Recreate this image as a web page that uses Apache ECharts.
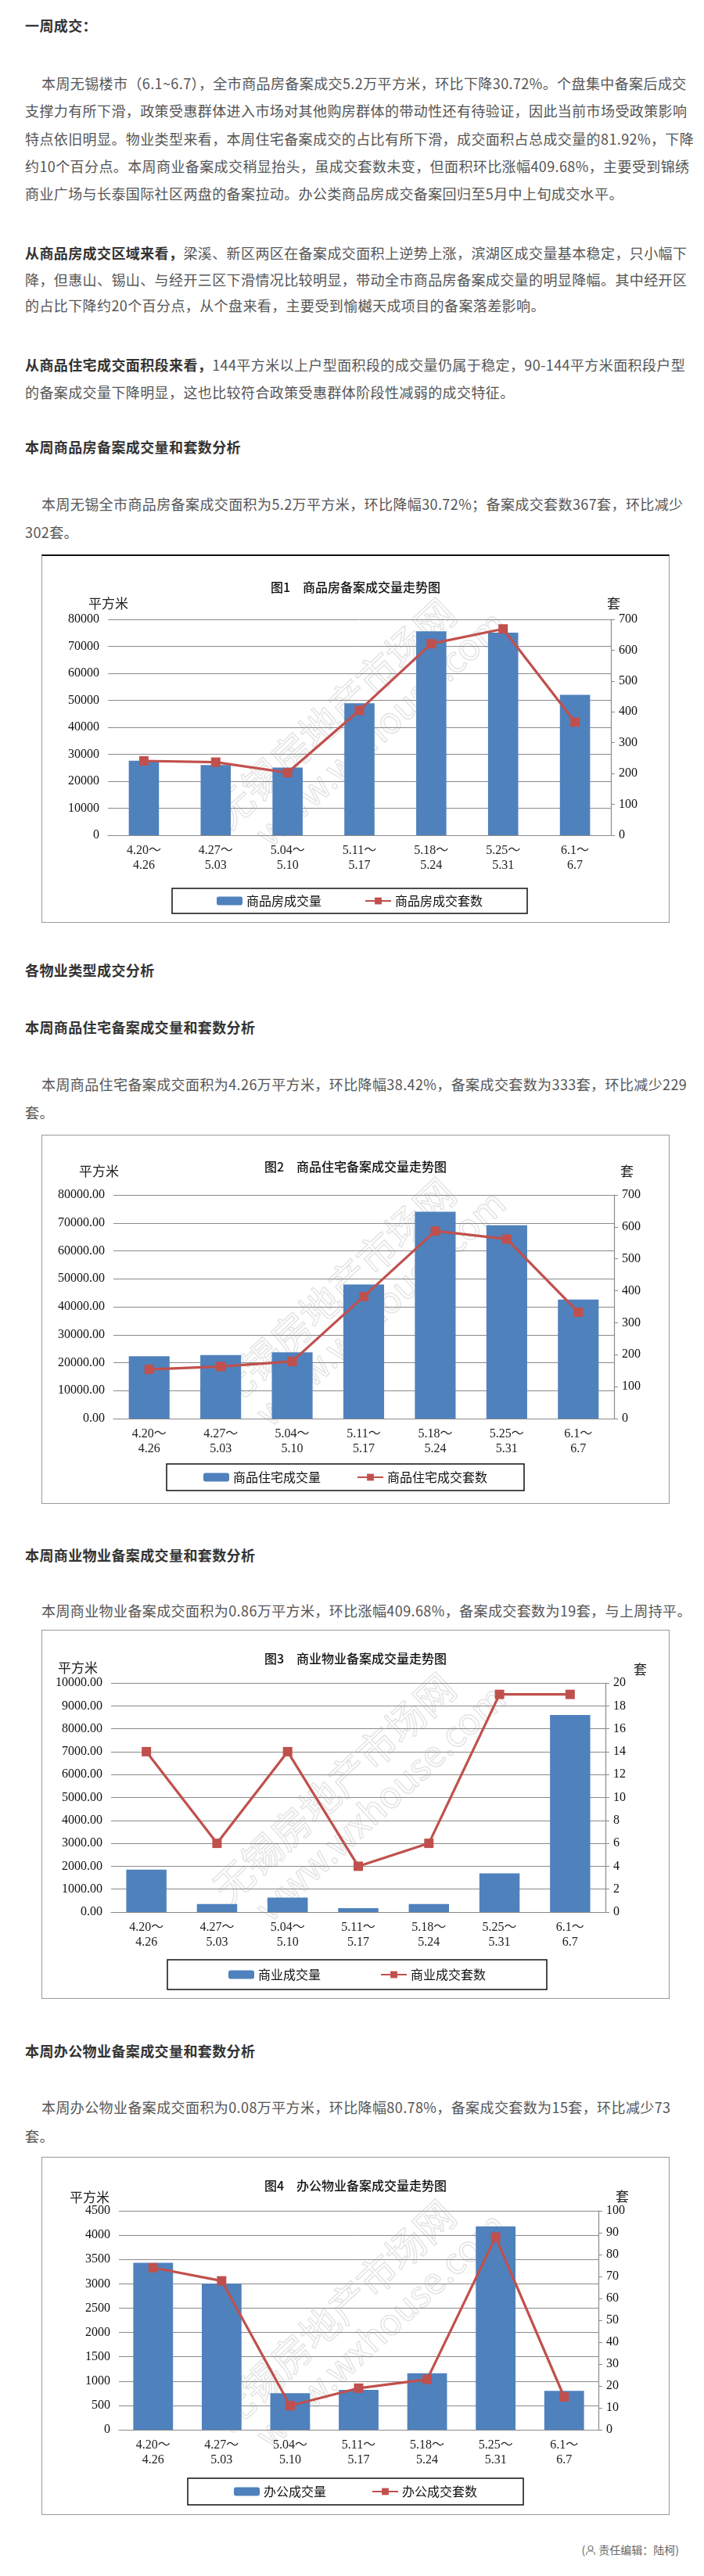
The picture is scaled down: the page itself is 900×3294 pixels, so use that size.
<!DOCTYPE html>
<html>
<head>
<meta charset="utf-8">
<title>无锡楼市一周成交</title>
<script src="https://cdn.jsdelivr.net/npm/echarts@6.0.0/dist/echarts.min.js"></script>
<style>
  body { margin: 0; background: #fff; font-family: 'Noto Sans CJK SC', sans-serif; }
  #page { position: relative; width: 900px; height: 3294px; overflow: hidden; }
  .t { position: absolute; left: 32px; white-space: nowrap; font-size: 18px; line-height: 35px; color: #555; letter-spacing: 0.4px; }
  .h { font-weight: bold; color: #333; }
  .ind { text-indent: 21px; }
  .t b { color: #333; }
  .box { position: absolute; left: 53px; width: 803px; box-sizing: border-box; border: 1px solid #9a9a9a; }
  .box > div { width: 100%; height: 100%; }
  .foot { position: absolute; right: 32px; top: 3250px; font-size: 14px; color: #666; }
</style>
</head>
<body>
<div id="page">
  <div class="t h" style="top:15px">一周成交：</div>

  <div class="t ind" style="top:89px;line-height:35.3px">本周无锡楼市（6.1~6.7），全市商品房备案成交5.2万平方米，环比下降30.72%。个盘集中备案后成交<br>支撑力有所下滑，政策受惠群体进入市场对其他购房群体的带动性还有待验证，因此当前市场受政策影响<br>特点依旧明显。物业类型来看，本周住宅备案成交的占比有所下滑，成交面积占总成交量的81.92%，下降<br>约10个百分点。本周商业备案成交稍显抬头，虽成交套数未变，但面积环比涨幅409.68%，主要受到锦绣<br>商业广场与长泰国际社区两盘的备案拉动。办公类商品房成交备案回归至5月中上旬成交水平。</div>

  <div class="t" style="top:307px;line-height:33.5px"><b>从商品房成交区域来看，</b>梁溪、新区两区在备案成交面积上逆势上涨，滨湖区成交量基本稳定，只小幅下<br>降，但惠山、锡山、与经开三区下滑情况比较明显，带动全市商品房备案成交量的明显降幅。其中经开区<br>的占比下降约20个百分点，从个盘来看，主要受到愉樾天成项目的备案落差影响。</div>

  <div class="t" style="top:449px"><b>从商品住宅成交面积段来看，</b>144平方米以上户型面积段的成交量仍属于稳定，90-144平方米面积段户型<br>的备案成交量下降明显，这也比较符合政策受惠群体阶段性减弱的成交特征。</div>

  <div class="t h" style="top:554px">本周商品房备案成交量和套数分析</div>
  <div class="t ind" style="top:626px;line-height:36px">本周无锡全市商品房备案成交面积为5.2万平方米，环比降幅30.72%；备案成交套数367套，环比减少<br>302套。</div>
  <div class="box" style="top:709px;height:471px;border-top:2px solid #111"><div id="c1"></div></div>

  <div class="t h" style="top:1223px">各物业类型成交分析</div>
  <div class="t h" style="top:1296px">本周商品住宅备案成交量和套数分析</div>
  <div class="t ind" style="top:1368px;line-height:36px">本周商品住宅备案成交面积为4.26万平方米，环比降幅38.42%，备案成交套数为333套，环比减少229<br>套。</div>
  <div class="box" style="top:1451px;height:472px"><div id="c2"></div></div>

  <div class="t h" style="top:1971px">本周商业物业备案成交量和套数分析</div>
  <div class="t ind" style="top:2042px">本周商业物业备案成交面积为0.86万平方米，环比涨幅409.68%，备案成交套数为19套，与上周持平。</div>
  <div class="box" style="top:2084px;height:472px"><div id="c3"></div></div>

  <div class="t h" style="top:2605px">本周办公物业备案成交量和套数分析</div>
  <div class="t ind" style="top:2676px;line-height:37px">本周办公物业备案成交面积为0.08万平方米，环比降幅80.78%，备案成交套数为15套，环比减少73<br>套。</div>
  <div class="box" style="top:2758px;height:458px"><div id="c4"></div></div>

  <div class="foot">(<svg width="14" height="14" viewBox="0 0 14 14" style="vertical-align:-2px"><circle cx="7" cy="4.5" r="3" fill="none" stroke="#777" stroke-width="1.2"/><path d="M1.5 13c0-3 2.5-5 5.5-5s5.5 2 5.5 5" fill="none" stroke="#777" stroke-width="1.2"/></svg> 责任编辑：陆柯)</div>
</div>

<script>
// 周次
var weeks = ['4.20～\n4.26', '4.27～\n5.03', '5.04～\n5.10', '5.11～\n5.17', '5.18～\n5.24', '5.25～\n5.31', '6.1～\n6.7'];

// 图1 商品房
var houseArea  = [27600, 26000, 25100, 48900, 75600, 75060, 52000];
var houseCount = [241, 237, 203, 405, 621, 669, 367];
// 图2 商品住宅
var residArea  = [22300, 22700, 23700, 48000, 74000, 69180, 42600];
var residCount = [154, 163, 179, 382, 587, 562, 333];
// 图3 商业
var commArea   = [1850, 350, 630, 170, 350, 1690, 8600];
var commCount  = [14, 6, 14, 4, 6, 19, 19];
// 图4 办公
var officeArea  = [3430, 3000, 750, 820, 1160, 4180, 800];
var officeCount = [74, 68, 11, 19, 23, 88, 15];

// 坐标轴范围 [左max, 左间隔, 右max, 右间隔]
var axis1 = [80000, 10000, 700, 100];
var axis2 = [80000, 10000, 700, 100];
var axis3 = [10000, 1000, 20, 2];
var axis4 = [4500, 500, 100, 10];

var BLUE = '#4F81BD', RED = '#C0504D', GRID = '#8a8a8a';
var SERIF = "'Liberation Serif', 'DejaVu Serif', 'Noto Sans CJK SC', serif";
var CJK = "'Noto Sans CJK SC', sans-serif";

function drawChart(id, o) {
  var chart = echarts.init(document.getElementById(id));
  chart.setOption({
    animation: false,
    backgroundColor: '#fff',
    title: {
      text: o.title, left: 'center', top: o.titleTop,
      textStyle: { fontFamily: CJK, fontSize: 16, fontWeight: 500, color: '#111' }
    },
    grid: { left: o.grid[0], right: o.grid[1], top: o.grid[2], bottom: o.grid[3], outerBoundsMode: 'none' },
    legend: {
      data: [o.barName, o.lineName],
      left: o.legend[0], top: o.legend[1],
      padding: [o.legend[2], o.legend[3], o.legend[2], o.legend[3]],
      itemGap: o.legend[4], itemWidth: 33, itemHeight: 11,
      borderColor: '#111', borderWidth: 1.5,
      textStyle: { fontFamily: CJK, fontSize: 16, color: '#111' }
    },
    xAxis: {
      type: 'category', data: weeks,
      axisLine: { show: true, lineStyle: { color: GRID, width: 1.2 } },
      axisTick: { show: false },
      axisLabel: { margin: 10, fontFamily: SERIF, fontSize: 16, lineHeight: 19, color: '#222', interval: 0 }
    },
    yAxis: [{
      type: 'value', min: 0, max: o.axis[0], interval: o.axis[1],
      axisLine: { show: false }, axisTick: { show: false },
      splitLine: { lineStyle: { color: GRID, width: 1 } },
      axisLabel: { margin: 11, fontFamily: SERIF, fontSize: 16, color: '#111',
        formatter: function (v) { return o.fixed ? v.toFixed(2) : String(v); } }
    }, {
      type: 'value', min: 0, max: o.axis[2], interval: o.axis[3], position: 'right',
      axisLine: { show: true, lineStyle: { color: GRID, width: 1.2 } },
      axisTick: { show: true, length: 5, lineStyle: { color: GRID } },
      splitLine: { show: false },
      axisLabel: { margin: 10, fontFamily: SERIF, fontSize: 16, color: '#111' }
    }],
    series: [{
      name: o.barName, type: 'bar', data: o.bars, barWidth: o.barWidth,
      itemStyle: { color: BLUE }
    }, {
      name: o.lineName, type: 'line', yAxisIndex: 1, data: o.line,
      symbol: 'rect', symbolSize: 12,
      lineStyle: { color: RED, width: 3.2 }, itemStyle: { color: RED }
    }],
    graphic: [
      { type: 'text', left: o.unitL[0] - 25, top: o.unitL[1] - 10,
        style: { text: '平方米', width: 50, align: 'center', font: '17px ' + CJK, fill: '#222' } },
      { type: 'text', left: o.unitR[0] - 9, top: o.unitR[1] - 10,
        style: { text: '套', font: '17px ' + CJK, fill: '#222' } },
      // 水印
      { type: 'group', x: 388, y: 217, rotation: 0.75, z: 100, silent: true, children: [
        { type: 'text', x: 0, y: -22, style: { text: '无锡房地产市场网', font: '50px ' + CJK,
          align: 'center', verticalAlign: 'middle', fill: 'rgba(255,255,255,0.12)',
          stroke: 'rgba(222,222,222,0.85)', lineWidth: 1.5 } },
        { type: 'text', x: 30, y: 32, style: { text: 'www.wxhouse.com', font: '46px ' + CJK,
          align: 'center', verticalAlign: 'middle', fill: 'rgba(255,255,255,0.12)',
          stroke: 'rgba(222,222,222,0.85)', lineWidth: 1.5 } }
      ] }
    ]
  });
}

drawChart('c1', {
  title: '图1　商品房备案成交量走势图', titleTop: 27,
  barName: '商品房成交量', lineName: '商品房成交套数',
  bars: houseArea, line: houseCount, axis: axis1, fixed: false,
  grid: [84, 74, 81, 111], barWidth: '42%',
  legend: [166, 425, 8, 57, 55],
  unitL: [84, 62], unitR: [731, 62]
});
drawChart('c2', {
  title: '图2　商品住宅备案成交量走势图', titleTop: 27,
  barName: '商品住宅成交量', lineName: '商品住宅成交套数',
  bars: residArea, line: residCount, axis: axis2, fixed: true,
  grid: [91, 70, 76, 108], barWidth: '57%',
  legend: [159, 420, 9, 47, 46],
  unitL: [72, 47], unitR: [748, 47]
});
drawChart('c3', {
  title: '图3　商业物业备案成交量走势图', titleTop: 23,
  barName: '商业成交量', lineName: '商业成交套数',
  bars: commArea, line: commCount, axis: axis3, fixed: true,
  grid: [88, 81, 67, 110], barWidth: '57%',
  legend: [160, 421, 11, 78, 76],
  unitL: [45, 49], unitR: [765, 51]
});
drawChart('c4', {
  title: '图4　办公物业备案成交量走势图', titleTop: 23,
  barName: '办公成交量', lineName: '办公成交套数',
  bars: officeArea, line: officeCount, axis: axis4, fixed: false,
  grid: [98, 90, 68, 108], barWidth: '58%',
  legend: [186, 410, 9, 59, 58],
  unitL: [60, 52], unitR: [742, 51]
});
</script>
</body>
</html>
